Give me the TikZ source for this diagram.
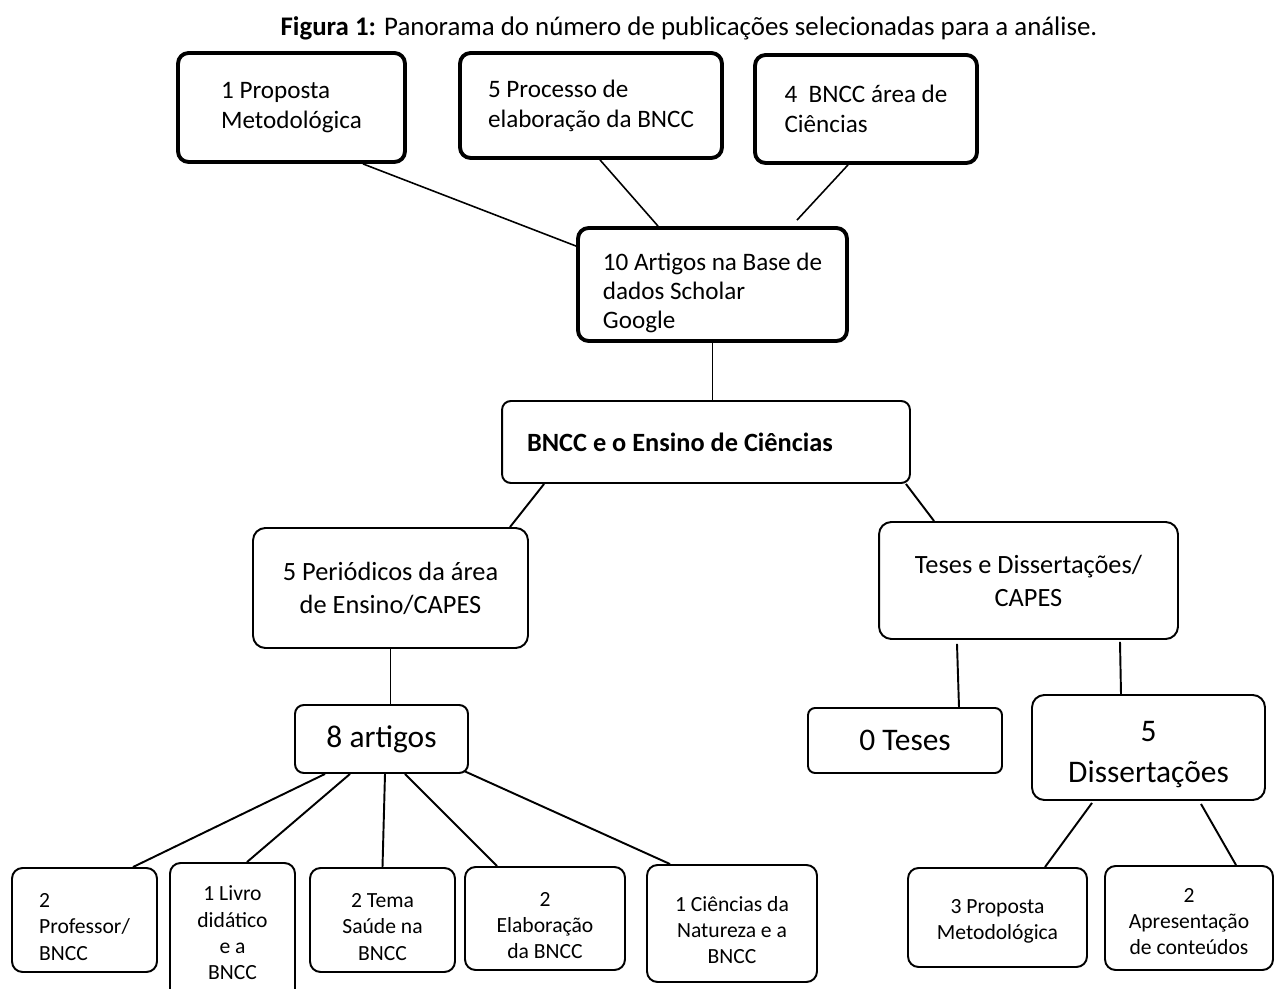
\documentclass[tikz,border=0pt]{standalone}
\usepackage{fontspec}
\setmainfont{Carlito}
\usetikzlibrary{positioning, calc}

\newcommand{\lowstrut}{\rule{0pt}{16pt}}

\begin{document}
\begin{tikzpicture}[
  x=0.02cm, y=-0.02cm,
  topbox/.style={draw, rounded corners=6pt, line width=2.2pt, inner sep=0pt,
                 align=left, font=\fontsize{14.3}{17}\selectfont},
  box/.style={draw, rounded corners=7pt, line width=1.1pt, inner sep=0pt,
              align=center, font=\fontsize{15}{18.8}\selectfont},
  bigbox/.style={box, rounded corners=5pt, font=\fontsize{17.9}{23.3}\selectfont},
  leaf/.style={box, rounded corners=6pt, font=\fontsize{12.3}{15}\selectfont},
  con/.style={line width=1.1pt},
]
\useasboundingbox (0,0) rectangle (1275,989);
\clip (0,0) rectangle (1275,989);

% --- title ---
\node[font=\fontsize{15.3}{18}\selectfont] (title) at (689,28)
  {\textbf{Figura 1:} Panorama do número de publicações selecionadas para a análise.};

% --- Scholar Google branch ---
\node[topbox, minimum width=4.54cm, minimum height=2.18cm] (meto) at (291.5,107.5)
  {1 Proposta\\Metodológica};
\node[topbox, minimum width=5.24cm, minimum height=2.10cm] (proc) at (591,105.5)
  {5 Processo de\\elaboração da BNCC};
\node[topbox, minimum width=4.44cm, minimum height=2.16cm] (cien) at (866,109)
  {4\ \ BNCC área de\\Ciências};
\node[topbox, minimum width=5.38cm, minimum height=2.26cm,
      font=\fontsize{14.3}{16.5}\selectfont] (scholar) at (712.5,284.5)
  {\rule{0pt}{19pt}10 Artigos na Base de\\dados Scholar\\Google};
\draw[con, line width=0.9pt] ($(meto.south)+(71.5,0)$) -- ($(scholar.north west)+(0,20)$);
\draw[con, line width=0.9pt] ($(proc.south)+(9,0)$) -- ($(scholar.north)+(-54.5,0)$);
\draw[con, line width=0.9pt] ($(cien.south)+(-18,0)$) -- ($(scholar.north)+(84.5,-6)$);

% --- root ---
\node[box, rounded corners=5pt, minimum width=8.16cm, minimum height=1.64cm,
      text width=7.16cm, inner xsep=0.5cm, align=flush left] (bncc) at (706,442)
  {\textbf{BNCC e o Ensino de Ciências}};
\draw[con] (scholar.south) -- (scholar.south |- bncc.north);

% --- periodicals ---
\node[box, minimum width=5.50cm, minimum height=2.40cm] (peri) at (390.5,588)
  {5 Periódicos da área\\de Ensino/CAPES};
\node[bigbox, minimum width=3.46cm, minimum height=1.36cm] (oito) at (381.5,739)
  {8 artigos};
\draw[con] ($(bncc.south west)+(43,0)$) -- ($(peri.north)+(119.5,0)$);
\draw[con] (peri.south) -- (peri.south |- oito.north);

\node[leaf, minimum width=2.90cm, minimum height=2.08cm, align=left] (prof) at (84.5,920)
  {\lowstrut 2\\Professor/\\BNCC};
\node[leaf, minimum width=2.50cm, minimum height=2.80cm] (livro) at (232.5,933)
  {1 Livro\\didático\\e a\\BNCC};
\node[leaf, minimum width=2.90cm, minimum height=2.08cm] (tema) at (382.5,920)
  {\lowstrut 2 Tema\\Saúde na\\BNCC};
\node[leaf, minimum width=3.20cm, minimum height=2.06cm] (elab) at (545,918.5)
  {\lowstrut 2\\Elaboração\\da BNCC};
\node[leaf, minimum width=3.40cm, minimum height=2.34cm] (natu) at (732,923.5)
  {\lowstrut 1 Ciências da\\Natureza e a\\BNCC};
\draw[con] ($(oito.south)+(-56.5,0)$) -- ($(prof.north)+(48.5,0)$);
\draw[con] ($(oito.south)+(-31.5,0)$) -- ($(livro.north)+(14.5,0)$);
\draw[con] ($(oito.south)+(3.5,0)$) -- (tema.north);
\draw[con] ($(oito.south)+(23.5,0)$) -- ($(elab.north)+(-48,0)$);
\draw[con] ($(oito.south east)+(-5,-3)$) -- ($(natu.north)+(-62,0)$);

% --- theses and dissertations ---
\node[box, minimum width=5.98cm, minimum height=2.34cm] (teses) at (1028.5,580.5)
  {Teses e Dissertações/\\CAPES};
\node[bigbox, rounded corners=4pt, minimum width=3.88cm, minimum height=1.30cm] (zero) at (905,740.5)
  {0 Teses};
\node[bigbox, rounded corners=7pt, minimum width=4.66cm, minimum height=2.10cm] (diss) at (1148.5,747.5)
  {\rule{0pt}{20pt}5\\Dissertações};
\draw[con] ($(bncc.south east)+(-5,0)$) -- ($(teses.north west)+(56,0)$);
\draw[con] ($(teses.south)+(-71.5,4)$) -- ($(zero.north)+(54,0)$);
\draw[con] ($(teses.south)+(91.5,2)$) -- ($(diss.north)+(-27.5,0)$);

\node[leaf, minimum width=3.58cm, minimum height=1.98cm] (prop) at (997.5,917.5)
  {\rule{0pt}{12pt}3 Proposta\\Metodológica};
\node[leaf, minimum width=3.36cm, minimum height=2.08cm] (apre) at (1189,918)
  {\rule{0pt}{12pt}2\\Apresentação\\de conteúdos};
\draw[con] ($(diss.south)+(-56.5,2)$) -- ($(prop.north)+(47.5,0)$);
\draw[con] ($(diss.south)+(52.5,3)$) -- ($(apre.north)+(47,0)$);
\end{tikzpicture}
\end{document}
